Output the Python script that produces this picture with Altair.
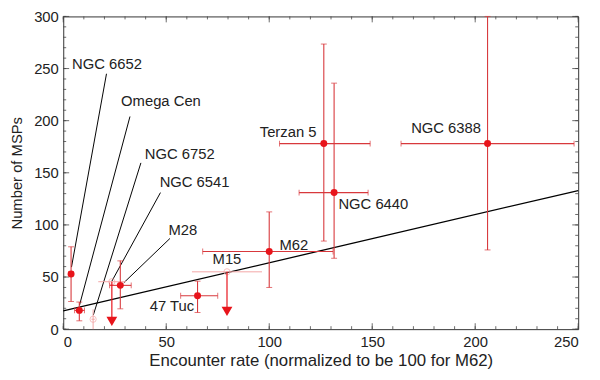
import altair as alt
import pandas as pd

# ---- data ----
# solid clusters with error bars
names = ["NGC 6652", "Omega Cen", "M28", "47 Tuc", "M62", "Terzan 5", "NGC 6440", "NGC 6388"]
rate = [3.8, 7.8, 27.7, 65.2, 100.0, 126.5, 131.5, 206.0]
msps = [53.0, 18.0, 42.0, 32.0, 74.5, 178.0, 131.0, 178.0]
rate_lo = [2.8, 5.5, 22.5, 57.0, 67.7, 105.0, 114.5, 164.0]
rate_hi = [4.8, 10.3, 33.0, 75.0, 131.0, 149.0, 148.0, 248.0]
msps_lo = [26.5, 8.0, 19.5, 16.0, 40.0, 84.5, 68.0, 76.0]
msps_hi = [79.0, 26.0, 65.5, 46.0, 112.5, 273.5, 236.0, 300.0]

# faint (open) clusters
faint_names = ["NGC 6752", "NGC 6541", "M15"]
faint_rate = [14.5, 23.6, 79.5]
faint_msps = [9.5, 45.5, 55.0]
faint_rate_lo = [13.7, 17.0, 62.5]
faint_rate_hi = [15.3, 30.5, 96.5]
faint_msps_lo = [0.0, 45.5, 55.0]
faint_msps_hi = [19.0, 45.5, 55.0]

# upper-limit arrows
lim_rate = [23.6, 79.5]
lim_top = [45.5, 55.0]
lim_bottom = [7.5, 17.0]

# fitted line
fit_x = [0, 250]
fit_y = [17.5, 133.0]

# labels
lab_text = ["NGC 6652", "Omega Cen", "NGC 6752", "NGC 6541", "M28", "M15", "47 Tuc",
            "M62", "Terzan 5", "NGC 6440", "NGC 6388"]
lab_x = [4.3, 28.1, 39.6, 46.8, 51.1, 72.5, 42.0, 105.0, 95.4, 133.6, 168.9]
lab_y = [254.5, 218.4, 168.0, 141.5, 95.0, 67.4, 21.8, 80.7, 189.0, 119.7, 192.8]

# leader lines
lead_x1 = [21.0, 32.4, 37.7, 47.2, 51.8]
lead_y1 = [245.0, 204.0, 159.5, 131.0, 87.0]
lead_x2 = [4.0, 7.9, 14.6, 23.6, 29.4]
lead_y2 = [59.5, 23.0, 13.5, 46.0, 44.5]

# ticks
x_major = list(range(0, 251, 50))
x_minor = list(range(0, 251, 10))
y_major = list(range(0, 301, 50))
y_minor = list(range(0, 301, 10))

W, H = 522, 317
RED = "#e8141b"
BAR = "#d8383c"
FAINT = "#f3a6a6"
FONT = "Liberation Sans"
TXT = "#222222"

xs = alt.Scale(domain=[0, 250], nice=False)
ys = alt.Scale(domain=[0, 300], nice=False)

df = pd.DataFrame(dict(name=names, x=rate, y=msps, xlo=rate_lo, xhi=rate_hi, ylo=msps_lo, yhi=msps_hi))
dff = pd.DataFrame(dict(name=faint_names, x=faint_rate, y=faint_msps, xlo=faint_rate_lo,
                        xhi=faint_rate_hi, ylo=faint_msps_lo, yhi=faint_msps_hi))
dlim = pd.DataFrame(dict(x=lim_rate, top=lim_top, bot=lim_bottom))
dfit = pd.DataFrame(dict(x=fit_x, y=fit_y))
dlab = pd.DataFrame(dict(t=lab_text, x=lab_x, y=lab_y))
dlead = pd.DataFrame(dict(x=lead_x1, y=lead_y1, x2=lead_x2, y2=lead_y2))

axis_style = dict(ticks=False, domain=False, grid=False, labelFont=FONT, titleFont=FONT,
                  labelFontSize=15, labelColor=TXT, titleColor=TXT,
                  titleFontWeight="normal")

X = lambda f="x": alt.X(f, type="quantitative", scale=xs,
                        axis=alt.Axis(title="Encounter rate (normalized to be 100 for M62)",
                                      values=x_major, labelPadding=6, titlePadding=3,
                                      titleFontSize=17, **axis_style))
Y = lambda f="y": alt.Y(f, type="quantitative", scale=ys,
                        axis=alt.Axis(title="Number of MSPs", values=y_major,
                                      labelPadding=5, titlePadding=9, titleFontSize=15,
                                      **axis_style))

fit = alt.Chart(dfit).mark_line(color="black", strokeWidth=1.3).encode(x=X(), y=Y())

lead = alt.Chart(dlead).mark_rule(color="black", strokeWidth=1).encode(
    x=X(), y=Y(), x2="x2", y2="y2")

# faint elements
f_h = alt.Chart(dff).mark_rule(color=FAINT, strokeWidth=1).encode(x=X("xlo"), x2="xhi", y=Y())
f_v = alt.Chart(dff).mark_rule(color=FAINT, strokeWidth=1).encode(x=X(), y=Y("ylo"), y2="yhi")
f_pt = alt.Chart(dff).mark_point(color=FAINT, size=40, strokeWidth=1, filled=False).encode(x=X(), y=Y())

# upper limits
l_rule = alt.Chart(dlim).mark_rule(color=RED, strokeWidth=1.2).encode(x=X(), y=Y("top"), y2="bot")
l_tri = alt.Chart(dlim).mark_point(shape="triangle-down", color=RED, filled=True, size=120, opacity=1).encode(
    x=X(), y=Y("bot"))

# error bars
e_h = alt.Chart(df).mark_rule(color=BAR, strokeWidth=1.1).encode(x=X("xlo"), x2="xhi", y=Y())
e_v = alt.Chart(df).mark_rule(color=BAR, strokeWidth=1.1).encode(x=X(), y=Y("ylo"), y2="yhi")
cap_l = alt.Chart(df).mark_tick(color=BAR, thickness=1, size=6, orient="vertical").encode(x=X("xlo"), y=Y())
cap_r = alt.Chart(df).mark_tick(color=BAR, thickness=1, size=6, orient="vertical").encode(x=X("xhi"), y=Y())
cap_b = alt.Chart(df).mark_tick(color=BAR, thickness=1, size=6, orient="horizontal").encode(x=X(), y=Y("ylo"))
cap_t = alt.Chart(df).mark_tick(color=BAR, thickness=1, size=6, orient="horizontal").encode(x=X(), y=Y("yhi"))
pts = alt.Chart(df).mark_circle(color=RED, size=50, opacity=1).encode(x=X(), y=Y())

labels = alt.Chart(dlab).mark_text(align="left", baseline="middle", fontSize=15, font=FONT,
                                   color=TXT).encode(x=X(), y=Y(), text="t")

# inward ticks on all four sides
def xticks(vals, ln):
    d = pd.DataFrame(dict(v=vals))
    b = alt.Chart(d).mark_rule(color="#444444", strokeWidth=0.8).encode(
        x=X("v"), y=alt.value(H), y2=alt.value(H - ln))
    t = alt.Chart(d).mark_rule(color="#444444", strokeWidth=0.8).encode(
        x=X("v"), y=alt.value(0), y2=alt.value(ln))
    return b + t

def yticks(vals, ln):
    d = pd.DataFrame(dict(v=vals))
    l = alt.Chart(d).mark_rule(color="#444444", strokeWidth=0.8).encode(
        y=Y("v"), x=alt.value(0), x2=alt.value(ln))
    r = alt.Chart(d).mark_rule(color="#444444", strokeWidth=0.8).encode(
        y=Y("v"), x=alt.value(W), x2=alt.value(W - ln))
    return l + r

ticks = xticks(x_minor, 3) + xticks(x_major, 6) + yticks(y_minor, 3) + yticks(y_major, 6)

chart = alt.layer(
    ticks, fit, lead, f_h, f_v, f_pt, e_h, e_v, cap_l, cap_r, cap_b, cap_t,
    l_rule, l_tri, pts, labels
).properties(
    width=W, height=H,
    autosize=alt.AutoSizeParams(type="none"),
    padding={"left": 56, "top": 6, "right": 14, "bottom": 49},
).configure_view(
    stroke="#333333", strokeWidth=1
)

chart.save("out.html", embed_options={"renderer": "svg", "actions": False})
